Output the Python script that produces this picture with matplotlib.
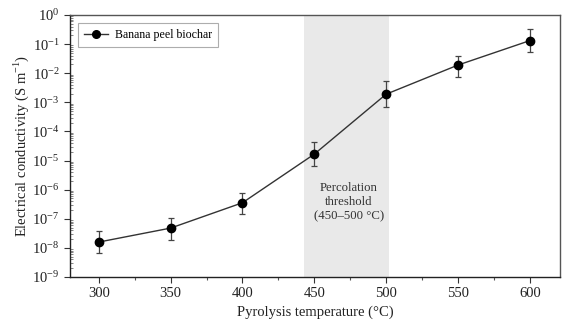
import matplotlib
matplotlib.use("Agg")
import matplotlib.pyplot as plt
import numpy as np
from matplotlib.ticker import LogLocator, MultipleLocator, NullFormatter
from matplotlib.lines import Line2D

plt.rcParams['font.family'] = ['Liberation Serif', 'DejaVu Serif']
plt.rcParams['mathtext.fontset'] = 'custom'
plt.rcParams['mathtext.rm'] = 'Liberation Serif'

temps = [300, 350, 400, 450, 500, 550, 600]
log_sigma = [-7.80, -7.32, -6.45, -4.78, -2.72, -1.72, -0.88]
log_upper = [-7.43, -6.98, -6.12, -4.35, -2.28, -1.42, -0.48]
log_lower = [-8.18, -7.72, -6.85, -5.20, -3.15, -2.12, -1.28]
xticks = [300, 350, 400, 450, 500, 550, 600]
shade = [443, 502]

sigma = 10 ** np.array(log_sigma)
err_hi = 10 ** np.array(log_upper) - sigma
err_lo = sigma - 10 ** np.array(log_lower)

fig = plt.figure(figsize=(5.62, 3.2), dpi=100)
ax = fig.add_axes([70/562, 1 - 277/320, 490/562, 262/320])

ax.axvspan(shade[0], shade[1], color='#e9e9e9', zorder=0, lw=0)
ax.errorbar(temps, sigma, yerr=[err_lo, err_hi], fmt='o', color='black',
            ecolor='#444444', elinewidth=0.9, capsize=2.4, capthick=0.9,
            markersize=6, zorder=3)
ax.plot(temps, sigma, '-', color='#333333', lw=1.0, zorder=2)

ax.set_yscale('log')
ax.set_ylim(1e-9, 1e0)
ax.set_xlim(280, 621)
ax.set_xticks(xticks)
ax.xaxis.set_minor_locator(MultipleLocator(25))
ax.yaxis.set_major_locator(LogLocator(base=10, numticks=20))
ax.yaxis.set_minor_locator(LogLocator(base=10, subs=np.arange(2, 10), numticks=20))
ax.yaxis.set_minor_formatter(NullFormatter())

ax.tick_params(axis='both', which='major', direction='out', length=4, width=0.8,
               labelsize=10.5, colors='#333333', labelcolor='#222222')
ax.tick_params(axis='y', which='minor', direction='in', length=2, width=0.5, colors='#555555')
ax.tick_params(axis='x', which='minor', direction='out', length=2.5, width=0.8, colors='#555555')

for s in ax.spines.values():
    s.set_color('#555555')
    s.set_linewidth(1.0)
ax.spines['left'].set_color('#222222')
ax.spines['bottom'].set_color('#222222')

ax.set_xlabel('Pyrolysis temperature (\u00b0C)', fontsize=10.5, color='#222222', labelpad=4)
ax.set_ylabel('Electrical conductivity (S m$^{-1}$)', fontsize=10.5, color='#222222', labelpad=1)

ax.text(474, 10**-6.42, 'Percolation\nthreshold\n(450\u2013500 \u00b0C)', ha='center', va='center',
        fontsize=9.2, color='#333333', linespacing=1.25)

handle = Line2D([], [], color='#333333', lw=1.0, marker='o', markersize=5.5,
                markerfacecolor='black', markeredgecolor='black')
leg = ax.legend([handle], ['Banana peel biochar'], loc='upper left', fontsize=8.6,
                frameon=True, fancybox=False, edgecolor='#999999',
                borderaxespad=0.7, handlelength=2.0, handletextpad=0.6, borderpad=0.5)
leg.get_frame().set_linewidth(0.8)

fig.savefig('out.png', dpi=100)
